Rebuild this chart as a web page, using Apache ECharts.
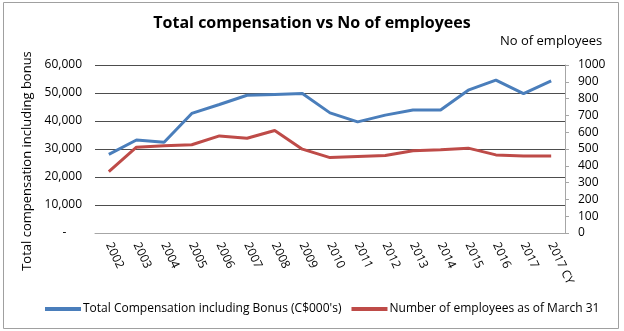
<!DOCTYPE html>
<html><head><meta charset="utf-8">
<script src="https://cdn.jsdelivr.net/npm/echarts@6/dist/echarts.min.js"></script>
<style>html,body{margin:0;padding:0;background:#fff}#c{width:624px;height:331px}</style>
</head><body><div id="c"></div>
<script>
var categories = ['2002','2003','2004','2005','2006','2007','2008','2009','2010','2011','2012','2013','2014','2015','2016','2017','2017 CY'];
var compensation = [28100,33200,32400,42700,45900,49200,49500,49800,42900,39700,42100,43900,43900,51000,54600,49800,54300];
var employees = [366,511,520,525,578,564,610,499,449,456,461,489,495,505,465,459,459];
var leftTicks = {min:0, max:60000, interval:10000};
var rightTicks = {min:0, max:1000, interval:100};
var FONT = 'Open Sans';
var chart = echarts.init(document.getElementById('c'), null, {renderer:'canvas'});
chart.setOption({
  animation:false,
  textStyle:{fontFamily:FONT},
  title:{text:'Total compensation vs No of employees', left:'center', top:10,
    textStyle:{fontFamily:FONT, fontSize:16, fontWeight:'bold', color:'#000'}},
  graphic:[
    {type:'rect', shape:{x:3.5,y:2.5,width:615,height:326}, style:{fill:'none', stroke:'#a0a0a0', lineWidth:1}},
    {type:'text', left:500, top:35, style:{text:'No of employees', font:'13px "Open Sans"', fill:'#000'}},
    {type:'text', x:27, y:161, rotation:Math.PI/2, style:{text:'Total compensation including bonus', font:'13px "Open Sans"', fill:'#000', align:'center', verticalAlign:'middle'}}
  ],
  legend:{top:298, left:40, itemWidth:36, itemHeight:4, itemGap:10, icon:'rect',
    textStyle:{fontFamily:FONT, fontSize:12, color:'#000', padding:[0,0,0,-3]}},
  grid:{left:95, right:59, top:65, bottom:98},
  xAxis:{type:'category', data:categories, boundaryGap:true,
    axisLine:{lineStyle:{color:'#a6a6a6'}}, axisTick:{show:false},
    axisLabel:{rotate:-65, fontSize:12, color:'#000', margin:10, interval:0}},
  yAxis:[
    {type:'value', min:leftTicks.min, max:leftTicks.max, interval:leftTicks.interval,
      axisLine:{show:false}, axisTick:{show:false},
      splitLine:{lineStyle:{color:'#4d4d4d', width:1}},
      axisLabel:{fontSize:12, color:'#000', margin:13,
        formatter:function(v){return v===0?'-     ':v.toLocaleString('en-US');}}},
    {type:'value', min:rightTicks.min, max:rightTicks.max, interval:rightTicks.interval, position:'right',
      axisLine:{show:true, lineStyle:{color:'#a6a6a6'}}, axisTick:{show:true, length:4, lineStyle:{color:'#a6a6a6'}},
      splitLine:{show:false},
      axisLabel:{fontSize:12, color:'#000', margin:13, formatter:function(v){return String(v);}}}
  ],
  series:[
    {name:"Total Compensation including Bonus (C$000's)", type:'line', data:compensation, yAxisIndex:0,
      symbol:'none', lineStyle:{width:3, color:'#4a7ebb'}, itemStyle:{color:'#4a7ebb'}},
    {name:'Number of employees as of March 31', type:'line', data:employees, yAxisIndex:1,
      symbol:'none', lineStyle:{width:3, color:'#be4b48'}, itemStyle:{color:'#be4b48'}}
  ]
});
</script></body></html>
